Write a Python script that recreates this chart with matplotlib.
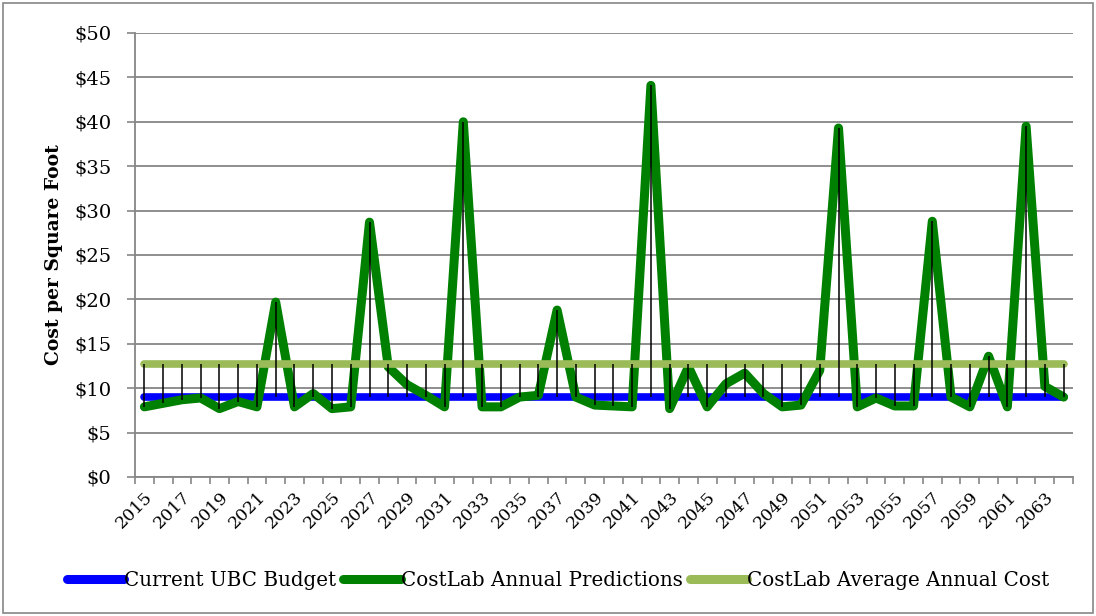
import matplotlib
matplotlib.use("Agg")
import matplotlib.pyplot as plt
from matplotlib.ticker import FuncFormatter, MultipleLocator
from matplotlib.patches import Rectangle
import numpy as np

years = list(range(2015, 2065))
ubc_budget = [9.0] * len(years)
costlab_predictions = [
    7.9, 8.3, 8.7, 8.9, 7.7, 8.5, 7.9, 19.7, 7.9, 9.4,
    7.7, 7.9, 28.7, 12.4, 10.4, 9.2, 7.9, 40.0, 7.9, 7.9,
    9.0, 9.2, 18.8, 9.0, 8.1, 8.0, 7.9, 44.1, 7.7, 12.4,
    7.9, 10.5, 11.7, 9.4, 7.9, 8.1, 12.0, 39.3, 7.9, 8.9,
    8.0, 8.0, 28.8, 9.0, 7.9, 13.6, 7.9, 39.5, 10.2, 9.0,
]
costlab_average = [12.7] * len(years)
year_labels = [str(y) for y in years[::2]]

plt.rcParams['font.family'] = ['DejaVu Serif']

fig = plt.figure(figsize=(10.96, 6.16), dpi=100)
ax = fig.add_axes([135 / 1096, 1 - 477 / 616, 938 / 1096, 444 / 616])

x = np.arange(len(years))
series = np.array([ubc_budget, costlab_predictions, costlab_average])

# high-low lines spanning all three series at each year
ax.vlines(x, series.min(axis=0), series.max(axis=0), color='black', lw=1.1, zorder=4)

ax.plot(x, ubc_budget, color='#0000ff', lw=5.5, solid_capstyle='round', zorder=3,
        label='Current UBC Budget')
ax.plot(x, costlab_predictions, color='#008000', lw=6.5, solid_capstyle='round',
        solid_joinstyle='round', zorder=3, label='CostLab Annual Predictions')
ax.plot(x, costlab_average, color='#9bbb59', lw=5.5, solid_capstyle='round', zorder=3,
        label='CostLab Average Annual Cost')

ax.set_xlim(-0.5, len(years) - 0.5)
ax.set_ylim(0, 50)
ax.yaxis.set_major_locator(MultipleLocator(5))
ax.yaxis.set_major_formatter(FuncFormatter(lambda v, p: f'${int(v)}'))
ax.grid(axis='y', color='#868686', lw=1.3, zorder=0)
ax.set_axisbelow(True)

ax.set_xticks(x[::2])
ax.set_xticklabels(year_labels, rotation=45, ha='right', va='top', rotation_mode='anchor')
ax.set_xticks(np.arange(-0.5, len(years), 1), minor=True)
ax.tick_params(axis='x', which='major', length=0, pad=8, labelsize=12.5)
ax.tick_params(axis='x', which='minor', length=5, color='#868686', width=1.2)
ax.tick_params(axis='y', length=6, color='#868686', width=1.2, labelsize=14, pad=11)

for s in ['top', 'right']:
    ax.spines[s].set_visible(False)
for s in ['left', 'bottom']:
    ax.spines[s].set_color('#868686')
    ax.spines[s].set_linewidth(1.3)

ax.set_ylabel('Cost per Square Foot', fontsize=13.5, fontweight='bold', labelpad=8)

leg = fig.legend(loc='center', bbox_to_anchor=(0.5 + 10 / 1096, 1 - 580 / 616), ncol=3,
                 frameon=False, fontsize=14.3, handlelength=2.9, handletextpad=0.0,
                 columnspacing=0.35)
for h in leg.get_lines():
    h.set_linewidth(6.5)

fig.patches.append(Rectangle((3 / 1096, 3 / 616), 1090 / 1096, 610 / 616,
                             transform=fig.transFigure, fill=False,
                             edgecolor='#868686', lw=1.2))

fig.savefig('out.png', dpi=100)
